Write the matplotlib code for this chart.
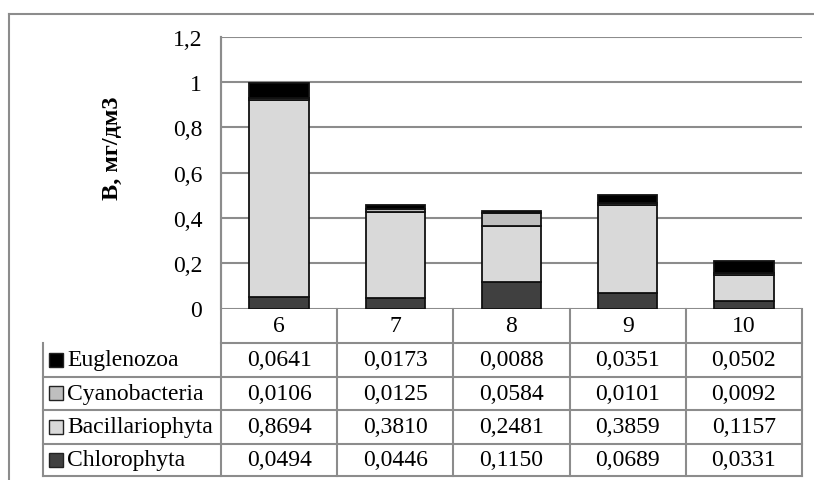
import matplotlib
matplotlib.use("Agg")
import matplotlib.pyplot as plt
from matplotlib.lines import Line2D
from matplotlib.ticker import FuncFormatter
from matplotlib.transforms import blended_transform_factory

plt.rcParams['font.family'] = ['Liberation Serif', 'DejaVu Serif']

# data: biomass by month
months = ['6', '7', '8', '9', '10']
euglenozoa = [0.0641, 0.0173, 0.0088, 0.0351, 0.0502]
cyanobacteria = [0.0106, 0.0125, 0.0584, 0.0101, 0.0092]
bacillariophyta = [0.8694, 0.3810, 0.2481, 0.3859, 0.1157]
chlorophyta = [0.0494, 0.0446, 0.1150, 0.0689, 0.0331]
y_ticks = [0, 0.2, 0.4, 0.6, 0.8, 1.0, 1.2]

# series in stacking order (bottom -> top)
series = [
    ('Chlorophyta', chlorophyta, '#404040'),
    ('Bacillariophyta', bacillariophyta, '#d9d9d9'),
    ('Cyanobacteria', cyanobacteria, '#bfbfbf'),
    ('Euglenozoa', euglenozoa, '#000000'),
]

W, H = 814, 481
GRID = '#8c8c8c'

def fbox(x0, y0, x1, y1):
    # pixel box -> figure fraction
    return [x0 / W, 1 - y1 / H, (x1 - x0) / W, (y1 - y0) / H]

def fmt(v):
    return f"{v:.4f}".replace('.', ',')

fig = plt.figure(figsize=(W / 100, H / 100), dpi=100)

# outer chart frame
fig.add_artist(Line2D([9 / W, 1], [1 - 15 / H, 1 - 15 / H], color=GRID, lw=1.5))
fig.add_artist(Line2D([9 / W, 9 / W], [1 - 15 / H, 0], color=GRID, lw=1.5))

ax_top, ax_bot = 37.7, 309.5
ax = fig.add_axes(fbox(221, ax_top, 802, ax_bot))

x = list(range(len(months)))
bottom = [0] * len(months)
for name, vals, col in series:
    ax.bar(x, vals, width=0.51, bottom=bottom, color=col, edgecolor='#111111',
           linewidth=1.3, zorder=3)
    bottom = [b + v for b, v in zip(bottom, vals)]

ax.set_xlim(-0.5, len(months) - 0.5)
ax.set_ylim(0, 1.2)
ax.set_yticks(y_ticks)
ax.yaxis.set_major_formatter(FuncFormatter(lambda v, p: f"{v:g}".replace('.', ',')))
ax.tick_params(axis='y', length=0, pad=13.5, labelsize=17)
ax.set_xticks([])
ax.grid(axis='y', color=GRID, lw=1.5, zorder=0)
for s in ['top', 'right', 'bottom']:
    ax.spines[s].set_visible(False)
ax.spines['left'].set_color(GRID)
ax.spines['left'].set_linewidth(1.5)
ax.set_ylabel('В, мг/дм3', fontsize=17.5, fontweight='bold', labelpad=0)
ax.yaxis.set_label_coords((123 - 221) / 581, (ax_bot - 148) / (ax_bot - ax_top))

# data table under the plot
trans = blended_transform_factory(ax.transData, ax.transAxes)
ppy = ax_bot - ax_top
rows_px = [309.5, 344, 377.5, 411, 444.5, 477.5]
rows = [(ax_bot - r) / ppy for r in rows_px]
px_per_cat = 581 / len(months)
x_left = -0.5 - (221 - 43) / px_per_cat

kw = dict(transform=trans, clip_on=False, color=GRID, lw=1.5)
# header row
ax.plot([-0.5, len(months) - 0.5], [rows[1]] * 2, **kw)
for r in rows[2:]:
    ax.plot([x_left, len(months) - 0.5], [r, r], **kw)
ax.plot([-0.5, -0.5], [1, rows[-1]], **kw)
for i in range(1, len(months) + 1):
    ax.plot([i - 0.5, i - 0.5], [rows[0], rows[-1]], **kw)
ax.plot([x_left, x_left], [rows[1], rows[-1]], **kw)

for i, m in enumerate(months):
    ax.text(i, (rows[0] + rows[1]) / 2, m, transform=trans, ha='center',
            va='center', fontsize=17)

for k, (name, vals, col) in enumerate(reversed(series)):
    yc = (rows[k + 1] + rows[k + 2]) / 2
    ax.plot([x_left + 13 / px_per_cat], [yc], marker='s', ms=9.5, mfc=col,
            mec='#222222', mew=1, transform=trans, clip_on=False)
    ax.text(x_left + 24 / px_per_cat, yc, name, transform=trans, ha='left',
            va='center', fontsize=17)
    for i, v in enumerate(vals):
        ax.text(i, yc, fmt(v), transform=trans, ha='center', va='center',
                fontsize=17)

fig.savefig('out.png', dpi=100)
